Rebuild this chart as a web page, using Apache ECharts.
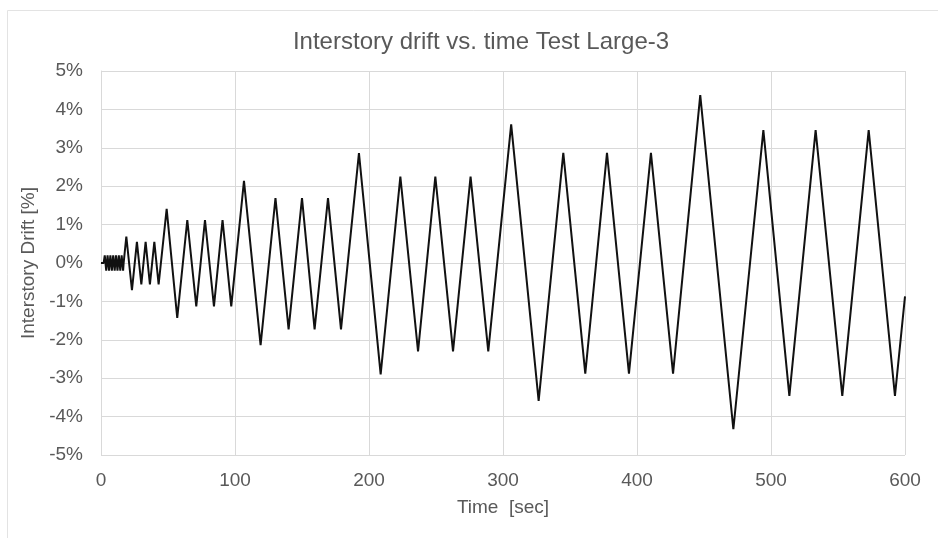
<!DOCTYPE html>
<html>
<head>
<meta charset="utf-8">
<script src="https://cdn.jsdelivr.net/npm/echarts@6/dist/echarts.min.js"></script>
<style>html,body{margin:0;padding:0;background:#fff;}#c{width:938px;height:538px;}</style>
</head>
<body>
<div id="c"></div>
<script>
const timeSec = [0, 2, 2.8, 3.9, 4.9, 6.0, 7.0, 8.1, 9.1, 10.2, 11.2, 12.3, 13.3, 14.4, 15.4, 16.5, 16.9,
  18.9, 23.1, 26.8, 30.1, 33.3, 36.5, 39.8, 43.0, 49.0, 56.9, 64.4, 71.1, 77.6, 84.3, 90.7, 97.2,
  106.7, 119.1, 130.2, 140.0, 150.0, 159.4, 169.4, 179.1, 192.5, 208.7, 223.4, 236.6, 249.5, 262.7,
  275.8, 289.0, 306.1, 326.6, 345.0, 361.4, 377.6, 394.0, 410.4, 426.9, 447.2, 471.9, 494.3, 513.7,
  533.3, 553.2, 572.9, 592.5, 600];
const driftPct = [0, 0, 0.2, -0.2, 0.2, -0.2, 0.2, -0.2, 0.2, -0.2, 0.2, -0.2, 0.2, -0.2, 0.2, -0.2, 0,
  0.69, -0.71, 0.55, -0.56, 0.55, -0.56, 0.55, -0.56, 1.41, -1.43, 1.12, -1.13, 1.12, -1.13, 1.12, -1.13,
  2.14, -2.14, 1.69, -1.73, 1.69, -1.73, 1.69, -1.73, 2.86, -2.90, 2.25, -2.30, 2.25, -2.30,
  2.25, -2.30, 3.61, -3.59, 2.87, -2.88, 2.87, -2.88, 2.87, -2.88, 4.37, -4.33, 3.46, -3.46,
  3.46, -3.46, 3.46, -3.46, -0.87];
const xTicks = [0, 100, 200, 300, 400, 500, 600];
const yTicks = [-5, -4, -3, -2, -1, 0, 1, 2, 3, 4, 5];

const chart = echarts.init(document.getElementById('c'));
const textColor = '#595959';
const gridColor = '#d9d9d9';
const ff = 'Liberation Sans, Arial, sans-serif';
chart.setOption({
  animation: false,
  backgroundColor: '#fff',
  graphic: [{
    type: 'rect', left: 5, top: 8, shape: {width: 960, height: 560},
    style: {fill: 'none', stroke: '#e3e3e3', lineWidth: 1}, silent: true
  }],
  title: {
    text: 'Interstory drift vs. time Test Large-3',
    left: 476, top: 25, textAlign: 'center',
    textStyle: {color: textColor, fontSize: 24, fontWeight: 'normal', fontFamily: ff}
  },
  grid: {left: 101, right: 33, top: 71, bottom: 83, containLabel: false},
  xAxis: {
    type: 'value', min: xTicks[0], max: xTicks[xTicks.length - 1], interval: 100,
    name: 'Time  [sec]', nameLocation: 'middle', nameGap: 43,
    nameTextStyle: {color: textColor, fontSize: 19, fontFamily: ff},
    axisLine: {show: true, lineStyle: {color: gridColor}},
    axisTick: {show: false},
    axisLabel: {color: textColor, fontSize: 19, margin: 16, fontFamily: ff},
    splitLine: {show: true, lineStyle: {color: gridColor, width: 1}}
  },
  yAxis: {
    type: 'value', min: yTicks[0], max: yTicks[yTicks.length - 1], interval: 1,
    name: 'Interstory Drift [%]', nameLocation: 'middle', nameGap: 59,
    nameTextStyle: {color: textColor, fontSize: 19, fontFamily: ff},
    axisLine: {show: true, lineStyle: {color: gridColor}},
    axisTick: {show: false},
    axisLabel: {color: textColor, fontSize: 19, margin: 18, formatter: '{value}%', fontFamily: ff},
    splitLine: {show: true, lineStyle: {color: gridColor, width: 1}}
  },
  series: [{
    type: 'line',
    data: timeSec.map((t, i) => [t, driftPct[i]]),
    showSymbol: false,
    lineStyle: {color: '#111', width: 2},
    silent: true
  }]
});
</script>
</body>
</html>
